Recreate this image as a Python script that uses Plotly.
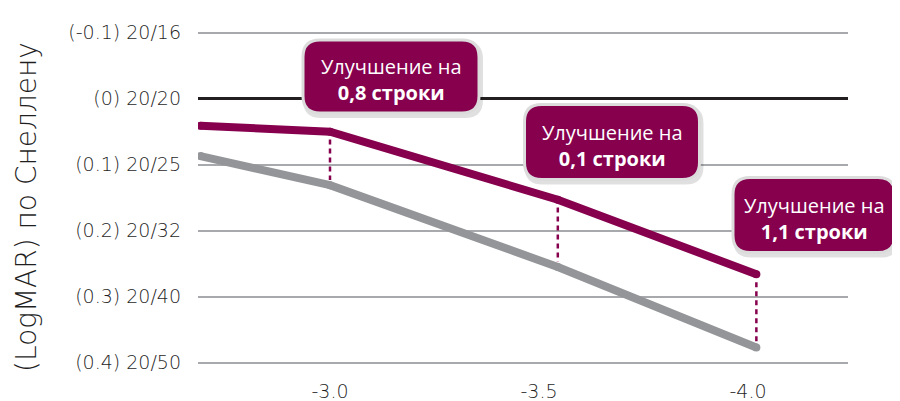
import plotly.graph_objects as go
import numpy as np

# ---- data ----
defocus = [-2.69, -3.0, -3.545, -4.02]          # x (D)
with_lens = [0.041, 0.050, 0.153, 0.266]         # purple series (logMAR)
without_lens = [0.087, 0.131, 0.255, 0.377]      # gray series (logMAR)
compare_idx = [1, 2, 3]
improvement_labels = ["0,8 строки", "0,1 строки", "1,1 строки"]
y_tick_vals = [-0.1, 0.0, 0.1, 0.2, 0.3, 0.4]
y_tick_text = ["(-0.1) 20/16", "(0) 20/20", "(0.1) 20/25", "(0.2) 20/32", "(0.3) 20/40", "(0.4) 20/50"]
x_tick_vals = [-3.0, -3.5, -4.0]
x_tick_text = ["-3.0", "-3.5", "-4.0"]
y_title = "(LogMAR) по Снеллену"

PURPLE = "#86004E"
GRAY = "#939598"
FONT = "Open Sans"
AXFONT = "DejaVu Sans"
TXT = "#1f1f1f"

OFF = 8                      # page body margin
W, H = 900 - OFF, 401 - OFF
# plot area in page pixels
L, R, T, B = 198, 848, 10, 375


def px(x):
    return (x - L) / (R - L)


def py(y):
    return (B - y) / (B - T)


fig = go.Figure()

# dashed connectors
dx, dy = [], []
for i in compare_idx:
    dx += [defocus[i], defocus[i], None]
    dy += [with_lens[i] + 0.012, without_lens[i] - 0.008, None]
fig.add_trace(go.Scatter(x=dx, y=dy, mode="lines",
                         line=dict(color=PURPLE, width=2.5, dash="5px,4px"),
                         hoverinfo="skip", showlegend=False))

fig.add_trace(go.Scatter(x=defocus, y=without_lens, mode="lines+markers",
                         line=dict(color=GRAY, width=8),
                         marker=dict(color=GRAY, size=8, line=dict(width=0)),
                         showlegend=False))
fig.add_trace(go.Scatter(x=defocus, y=with_lens, mode="lines+markers",
                         line=dict(color=PURPLE, width=8),
                         marker=dict(color=PURPLE, size=8, line=dict(width=0)),
                         showlegend=False))


def rrect(w, h, r):
    a, b = w / 2, h / 2
    return (f"M {-a+r},{-b} L {a-r},{-b} Q {a},{-b} {a},{-b+r} L {a},{b-r} "
            f"Q {a},{b} {a-r},{b} L {-a+r},{b} Q {-a},{b} {-a},{b-r} "
            f"L {-a},{-b+r} Q {-a},{-b} {-a+r},{-b} Z")


boxes = [  # center px, width, height
    (391, 76.5, 176, 73),
    (612, 142, 175, 75),
    (814, 215, 162, 75),
]
shapes = []
annotations = []
for (cx, cy, bw, bh), lab in zip(boxes, improvement_labels):
    shapes.append(dict(type="path", xref="paper", yref="paper",
                       xsizemode="pixel", ysizemode="pixel",
                       xanchor=px(cx + 2), yanchor=py(cy + 3),
                       path=rrect(bw + 4, bh + 4, 18),
                       fillcolor="rgba(0,0,0,0.12)", line=dict(width=0)))
    shapes.append(dict(type="path", xref="paper", yref="paper",
                       xsizemode="pixel", ysizemode="pixel",
                       xanchor=px(cx), yanchor=py(cy),
                       path=rrect(bw, bh, 17),
                       fillcolor=PURPLE, line=dict(color="#dcdcdc", width=3)))
    annotations.append(dict(xref="paper", yref="paper", x=px(cx), y=py(cy + 3),
                            text=f"Улучшение на<br><b>{lab}</b>", showarrow=False,
                            font=dict(family=FONT, size=20, color="white"),
                            align="center", xanchor="center", yanchor="middle"))

annotations.append(dict(xref="paper", yref="paper", x=px(26), y=py(207),
                        text=y_title, textangle=-90, showarrow=False,
                        font=dict(family=AXFONT, size=28, color=TXT, weight=300),
                        xanchor="center", yanchor="middle"))

fig.update_layout(
    width=W, height=H,
    margin=dict(l=L - OFF, r=900 - R, t=T - OFF, b=401 - B, autoexpand=False),
    paper_bgcolor="white", plot_bgcolor="white",
    shapes=shapes, annotations=annotations,
    showlegend=False,
)
fig.update_xaxes(range=[-3.0 + (330 - L) / 418, -3.0 - (R - 330) / 418],
                 tickvals=x_tick_vals, ticktext=x_tick_text,
                 showgrid=False, zeroline=False, showline=False, ticks="",
                 ticklabelstandoff=3, automargin=False,
                 tickfont=dict(family=AXFONT, size=19, color=TXT, weight=300))
fig.update_yaxes(range=[0.4 + (B - 362.7) / 660, -0.1 - (32.7 - T) / 660],
                 tickvals=y_tick_vals, ticktext=y_tick_text,
                 showgrid=True, gridcolor="#a7a9ac", gridwidth=1.5,
                 zeroline=True, zerolinecolor="#231f20", zerolinewidth=3,
                 showline=False, ticks="", ticklabelstandoff=16, automargin=False,
                 tickfont=dict(family=AXFONT, size=19, color=TXT, weight=300))

fig.write_html("out.html")
